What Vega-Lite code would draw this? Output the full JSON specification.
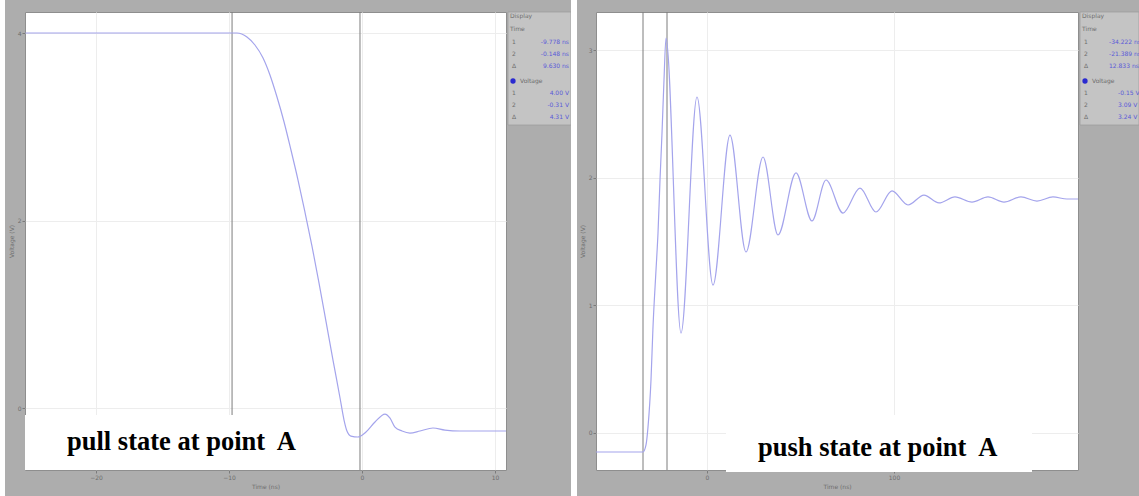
{
"$schema":"https://vega.github.io/schema/vega-lite/v6.json",
"background":"#adadad",
"padding":0,
"autosize":{"type":"pad"},
"bounds":"flush",
"spacing":0,
"config":{
  "view":{"stroke":null},
  "axis":{"labelFont":"DejaVu Sans","titleFont":"DejaVu Sans","labelFontSize":6,"titleFontSize":6,"titleFontWeight":"normal","labelColor":"#6e6e6e","titleColor":"#6e6e6e","tickSize":3,"tickColor":"#7a7a7a","domain":false,"grid":true,"gridColor":"#ededed","gridWidth":1,"labelPadding":1,"titlePadding":3},
  "text":{"font":"DejaVu Sans"}
},
"datasets":{
  "edge":[{"x":0,"x2":5,"y":-12,"y2":484}],
  "curL":[{"t":-9.77},{"t":-0.15}],
  "waveL":[
    {"t":-25.3,"v":4.0},{"t":-9.4,"v":4.0},{"t":-8.65,"v":3.957},{"t":-8.05,"v":3.872},{"t":-7.44,"v":3.733},{"t":-6.92,"v":3.552},{"t":-6.39,"v":3.317},{"t":-5.86,"v":3.051},{"t":-5.34,"v":2.752},{"t":-4.81,"v":2.432},{"t":-4.29,"v":2.091},{"t":-3.76,"v":1.728},{"t":-3.23,"v":1.333},{"t":-2.71,"v":0.928},{"t":-2.18,"v":0.512},{"t":-1.65,"v":0.107},{"t":-1.35,"v":-0.128},{"t":-1.13,"v":-0.245},{"t":-0.83,"v":-0.299},{"t":-0.3,"v":-0.309},{"t":0.3,"v":-0.256},{"t":0.98,"v":-0.149},{"t":1.73,"v":-0.064},{"t":2.11,"v":-0.107},{"t":2.48,"v":-0.203},{"t":3.01,"v":-0.245},{"t":3.61,"v":-0.267},{"t":4.36,"v":-0.245},{"t":5.34,"v":-0.213},{"t":6.24,"v":-0.235},{"t":7.37,"v":-0.245},{"t":10.83,"v":-0.245}
  ],
  "boxL":[{"t":-25.34,"t2":-3.91,"v":-0.075,"v2":-0.661}],
  "capL":[{"t":-22.18,"v":-0.448,"label":"pull state at point\u00a0 A"}],
  "curR":[{"t":-34.22},{"t":-21.39}],
  "waveR":[
    {"t":-59.36,"v":-0.149},{"t":-34.22,"v":-0.149},{"t":-32.62,"v":-0.094},{"t":-31.55,"v":0.047},{"t":-29.95,"v":0.415},{"t":-28.88,"v":0.83},{"t":-27.27,"v":1.277},{"t":-26.2,"v":1.567},{"t":-25.13,"v":1.982},{"t":-24.06,"v":2.35},{"t":-23.0,"v":2.765},{"t":-21.93,"v":3.094},
    {"t":-13.9,"v":0.783},{"t":-5.35,"v":2.632},{"t":3.21,"v":1.159},{"t":12.3,"v":2.334},{"t":20.86,"v":1.418},{"t":29.95,"v":2.162},{"t":37.97,"v":1.551},{"t":47.59,"v":2.037},{"t":56.15,"v":1.661},{"t":63.64,"v":1.982},{"t":72.73,"v":1.723},{"t":81.82,"v":1.919},{"t":90.37,"v":1.731},{"t":98.93,"v":1.896},{"t":107.49,"v":1.786},{"t":116.04,"v":1.864},{"t":124.06,"v":1.802},{"t":132.62,"v":1.849},{"t":141.71,"v":1.809},{"t":150.27,"v":1.849},{"t":158.82,"v":1.809},{"t":167.91,"v":1.849},{"t":176.47,"v":1.817},{"t":185.03,"v":1.849},{"t":192.51,"v":1.833},{"t":198.4,"v":1.833}
  ],
  "boxR":[{"t":10.16,"t2":173.8,"v":0.141,"v2":-0.305}],
  "capR":[{"t":27.27,"v":-0.18,"label":"push state at point\u00a0 A"}],
  "s1box":[{"x":2,"x2":65,"y":0,"y2":113}],
  "s1white":[{"x":65,"x2":71,"y":-12,"y2":484}],
  "slab":[{"x":4,"y":4,"label":"Display"},{"x":4,"y":17,"label":"Time"},{"x":6,"y":30,"label":"1"},{"x":6,"y":42,"label":"2"},{"x":6,"y":54,"label":"Δ"},{"x":14,"y":69,"label":"Voltage"},{"x":6,"y":81,"label":"1"},{"x":6,"y":93,"label":"2"},{"x":6,"y":105,"label":"Δ"}],
  "sdot":[{"x":7,"y":69}],
  "s1val":[{"x":63,"y":30,"label":"-9.778 ns"},{"x":63,"y":42,"label":"-0.148 ns"},{"x":63,"y":54,"label":"9.630 ns"},{"x":63,"y":81,"label":"4.00 V"},{"x":63,"y":93,"label":"-0.31 V"},{"x":63,"y":105,"label":"4.31 V"}],
  "s2box":[{"x":2,"x2":61,"y":0,"y2":113}],
  "s2val":[{"x":31,"y":30,"label":"-34.222 ns"},{"x":31,"y":42,"label":"-21.389 ns"},{"x":31,"y":54,"label":"12.833 ns"},{"x":40,"y":81,"label":"-0.15 V"},{"x":40,"y":93,"label":"3.09 V"},{"x":40,"y":105,"label":"3.24 V"}]
},
"hconcat":[
  {"width":25,"height":484,"data":{"name":"edge"},"mark":{"type":"rect","color":"#ffffff"},
   "encoding":{"x":{"field":"x","type":"quantitative","scale":{"domain":[0,25],"nice":false,"zero":false},"axis":null},"x2":{"field":"x2"},
   "y":{"field":"y","type":"quantitative","scale":{"domain":[0,484],"nice":false,"zero":false,"reverse":true},"axis":null},"y2":{"field":"y2"}}},
  {"width":481,"height":458,"view":{"fill":"#ffffff","stroke":"#8e8e8e"},
   "layer":[
    {"data":{"name":"curL"},"mark":{"type":"rule","color":"#7d7d7d","strokeWidth":1},
     "encoding":{"x":{"field":"t","type":"quantitative","scale":{"domain":[-25.34,10.83],"nice":false,"zero":false},"axis":{"values":[-20,-10,0,10],"title":"Time (ns)","format":"d"}}}},
    {"data":{"name":"waveL"},"mark":{"type":"line","color":"#a4a4ec","strokeWidth":1.2,"interpolate":"monotone"},
     "encoding":{"x":{"field":"t","type":"quantitative"},"y":{"field":"v","type":"quantitative","scale":{"domain":[-0.661,4.224],"nice":false,"zero":false},"axis":{"values":[0,2,4],"title":"Voltage (V)","format":"d"}}}},
    {"data":{"name":"boxL"},"mark":{"type":"rect","color":"#ffffff"},
     "encoding":{"x":{"field":"t","type":"quantitative"},"x2":{"field":"t2"},"y":{"field":"v","type":"quantitative"},"y2":{"field":"v2"}}},
    {"data":{"name":"capL"},"mark":{"type":"text","font":"Liberation Serif","fontWeight":"bold","fontSize":26.5,"align":"left","baseline":"alphabetic","color":"#000000"},
     "encoding":{"x":{"field":"t","type":"quantitative"},"y":{"field":"v","type":"quantitative"},"text":{"field":"label"}}}
   ]},
  {"width":90,"height":484,
   "encoding":{"x":{"field":"x","type":"quantitative","scale":{"domain":[0,90],"nice":false,"zero":false},"axis":null},
     "y":{"field":"y","type":"quantitative","scale":{"domain":[0,484],"nice":false,"zero":false,"reverse":true},"axis":null}},
   "layer":[
    {"data":{"name":"s1box"},"mark":{"type":"rect","fill":"#c4c4c4","stroke":"#9c9c9c","strokeWidth":0.7},"encoding":{"x2":{"field":"x2"},"y2":{"field":"y2"}}},
    {"data":{"name":"s1white"},"mark":{"type":"rect","fill":"#ffffff"},"encoding":{"x2":{"field":"x2"},"y2":{"field":"y2"}}},
    {"data":{"name":"slab"},"mark":{"type":"text","fontSize":6,"align":"left","baseline":"middle","color":"#6e6e6e"},"encoding":{"text":{"field":"label"}}},
    {"data":{"name":"s1val"},"mark":{"type":"text","fontSize":6,"align":"right","baseline":"middle","color":"#5a5ad8"},"encoding":{"text":{"field":"label"}}},
    {"data":{"name":"sdot"},"mark":{"type":"point","filled":true,"size":28,"color":"#2a2ad0","opacity":1}}
   ]},
  {"width":482,"height":458,"view":{"fill":"#ffffff","stroke":"#8e8e8e"},
   "layer":[
    {"data":{"name":"curR"},"mark":{"type":"rule","color":"#7d7d7d","strokeWidth":1},
     "encoding":{"x":{"field":"t","type":"quantitative","scale":{"domain":[-59.36,198.4],"nice":false,"zero":false},"axis":{"values":[0,100],"title":"Time (ns)","format":"d"}}}},
    {"data":{"name":"waveR"},"mark":{"type":"line","color":"#a4a4ec","strokeWidth":1.2,"interpolate":"monotone"},
     "encoding":{"x":{"field":"t","type":"quantitative"},"y":{"field":"v","type":"quantitative","scale":{"domain":[-0.29,3.298],"nice":false,"zero":false},"axis":{"values":[0,1,2,3],"title":"Voltage (V)","format":"d"}}}},
    {"data":{"name":"boxR"},"mark":{"type":"rect","color":"#ffffff"},
     "encoding":{"x":{"field":"t","type":"quantitative"},"x2":{"field":"t2"},"y":{"field":"v","type":"quantitative"},"y2":{"field":"v2"}}},
    {"data":{"name":"capR"},"mark":{"type":"text","font":"Liberation Serif","fontWeight":"bold","fontSize":26.5,"align":"left","baseline":"alphabetic","color":"#000000"},
     "encoding":{"x":{"field":"t","type":"quantitative"},"y":{"field":"v","type":"quantitative"},"text":{"field":"label"}}}
   ]},
  {"width":61,"height":484,
   "encoding":{"x":{"field":"x","type":"quantitative","scale":{"domain":[0,61],"nice":false,"zero":false},"axis":null},
     "y":{"field":"y","type":"quantitative","scale":{"domain":[0,484],"nice":false,"zero":false,"reverse":true},"axis":null}},
   "layer":[
    {"data":{"name":"s2box"},"mark":{"type":"rect","fill":"#c4c4c4","stroke":"#9c9c9c","strokeWidth":0.7},"encoding":{"x2":{"field":"x2"},"y2":{"field":"y2"}}},
    {"data":{"name":"slab"},"mark":{"type":"text","fontSize":6,"align":"left","baseline":"middle","color":"#6e6e6e"},"encoding":{"text":{"field":"label"}}},
    {"data":{"name":"s2val"},"mark":{"type":"text","fontSize":6,"align":"left","baseline":"middle","color":"#5a5ad8","clip":true},"encoding":{"text":{"field":"label"}}},
    {"data":{"name":"sdot"},"mark":{"type":"point","filled":true,"size":28,"color":"#2a2ad0","opacity":1}}
   ]}
]
}
